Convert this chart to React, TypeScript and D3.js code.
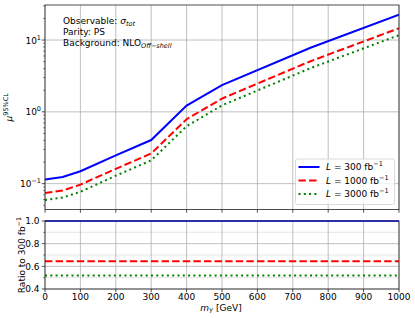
import React from "react";
import * as d3 from "d3";

const mass = [0, 50, 100, 200, 300, 400, 500, 750, 1000];
const mu300 = [0.114, 0.124, 0.149, 0.248, 0.405, 1.22, 2.36, 7.8, 22.5];
const mu1000 = [0.074, 0.080, 0.097, 0.161, 0.263, 0.79, 1.53, 5.07, 14.6];
const mu3000 = [0.059, 0.064, 0.077, 0.129, 0.211, 0.63, 1.23, 4.06, 11.7];
const ratio300 = [1, 1, 1, 1, 1, 1, 1, 1, 1];
const ratio1000 = [0.645, 0.645, 0.645, 0.645, 0.645, 0.645, 0.645, 0.645, 0.645];
const ratio3000 = [0.52, 0.52, 0.52, 0.52, 0.52, 0.52, 0.52, 0.52, 0.52];
const xTicks = [0, 100, 200, 300, 400, 500, 600, 700, 800, 900, 1000];
const logTicks = [0.1, 1, 10];
const logTickExp = ["−1", "0", "1"];
const ratioTicks = [0.4, 0.6, 0.8, 1.0];
const ratioMinor = [0.5, 0.7, 0.9];
const legendLumi = ["300", "1000", "3000"];

const FONT = "DejaVu Sans, sans-serif";
const L = 45, R = 399;
const T1 = 5, B1 = 209.5;
const T2 = 221, B2 = 289;

export default function App() {
  const x = d3.scaleLinear().domain([0, 1000]).range([L, R]);
  const y = d3.scaleLog().domain([Math.pow(10, -1.36), Math.pow(10, 1.488)]).range([B1, T1]);
  const yr = d3.scaleLinear().domain([0.4, 1.0]).range([B2, T2]);

  const lineTop = (vals: number[]) =>
    d3.line<number>().x((_, i) => x(mass[i])).y((v) => y(v))(vals) || "";
  const lineBot = (vals: number[]) =>
    d3.line<number>().x((_, i) => x(mass[i])).y((v) => yr(v))(vals) || "";

  const series = [
    { top: mu300, bot: ratio300, color: "#0000ff", dash: "none" },
    { top: mu1000, bot: ratio1000, color: "#ff0000", dash: "7.4,3.2" },
    { top: mu3000, bot: ratio3000, color: "#008000", dash: "2,3.3" },
  ];

  const [lo, hi] = y.domain();
  const minorLog: number[] = [];
  for (let e = -2; e <= 2; e++) {
    for (let k = 2; k <= 9; k++) {
      const v = k * Math.pow(10, e);
      if (v >= lo && v <= hi) minorLog.push(v);
    }
  }

  const grid = "#b0b0b0";
  const spine = "#222";

  return (
    <svg width={415} height={318} style={{ position: "absolute", left: 0, top: 0, fontFamily: FONT }}>
      <rect x={0} y={0} width={415} height={318} fill="#fff" />
      <defs>
        <clipPath id="c1"><rect x={L} y={T1} width={R - L} height={B1 - T1} /></clipPath>
        <clipPath id="c2"><rect x={L} y={T2 - 2} width={R - L} height={B2 - T2 + 2} /></clipPath>
      </defs>

      {/* top panel grid */}
      {xTicks.map((t) => (
        <line key={"gx1" + t} x1={x(t)} x2={x(t)} y1={T1} y2={B1} stroke={grid} strokeWidth={0.8} />
      ))}
      {logTicks.map((t) => (
        <line key={"gy1" + t} x1={L} x2={R} y1={y(t)} y2={y(t)} stroke={grid} strokeWidth={0.8} />
      ))}

      {/* bottom panel grid */}
      {xTicks.map((t) => (
        <line key={"gx2" + t} x1={x(t)} x2={x(t)} y1={T2} y2={B2} stroke={grid} strokeWidth={0.8} />
      ))}
      {ratioTicks.map((t) => (
        <line key={"gy2" + t} x1={L} x2={R} y1={yr(t)} y2={yr(t)} stroke={grid} strokeWidth={0.8} />
      ))}
      {ratioMinor.map((t) => (
        <line key={"gm2" + t} x1={L} x2={R} y1={yr(t)} y2={yr(t)} stroke={grid} strokeWidth={0.8} opacity={0.4} />
      ))}

      {/* curves */}
      <g clipPath="url(#c1)">
        {series.map((s, i) => (
          <path key={"t" + i} d={lineTop(s.top)} fill="none" stroke={s.color} strokeWidth={2} strokeDasharray={s.dash} />
        ))}
      </g>
      <g clipPath="url(#c2)">
        {series.map((s, i) => (
          <path key={"b" + i} d={lineBot(s.bot)} fill="none" stroke={s.color} strokeWidth={i === 0 ? 1.5 : 2} strokeDasharray={s.dash} />
        ))}
      </g>

      {/* spines */}
      <rect x={L} y={T1} width={R - L} height={B1 - T1} fill="none" stroke={spine} strokeWidth={0.8} />
      <rect x={L} y={T2} width={R - L} height={B2 - T2} fill="none" stroke={spine} strokeWidth={0.8} />

      {/* top y ticks */}
      {logTicks.map((t, i) => (
        <g key={"yt" + t}>
          <line x1={L - 3.2} x2={L} y1={y(t)} y2={y(t)} stroke={spine} strokeWidth={0.8} />
          <text x={L - 4} y={y(t) + 3.5} fontSize={9} textAnchor="end" fill="#000">
            10<tspan fontSize={6.5} dy={-4}>{logTickExp[i]}</tspan>
          </text>
        </g>
      ))}
      {minorLog.map((t) => (
        <line key={"ym" + t} x1={L - 1.8} x2={L} y1={y(t)} y2={y(t)} stroke={spine} strokeWidth={0.6} />
      ))}
      {/* top x ticks (no labels) */}
      {xTicks.map((t) => (
        <line key={"xt1" + t} x1={x(t)} x2={x(t)} y1={B1} y2={B1 + 3.2} stroke={spine} strokeWidth={0.8} />
      ))}

      {/* bottom ticks */}
      {ratioTicks.map((t) => (
        <g key={"rt" + t}>
          <line x1={L - 3.2} x2={L} y1={yr(t)} y2={yr(t)} stroke={spine} strokeWidth={0.8} />
          <text x={L - 5.5} y={yr(t) + 3.3} fontSize={9} textAnchor="end" fill="#000">{t.toFixed(1)}</text>
        </g>
      ))}
      {ratioMinor.map((t) => (
        <line key={"rm" + t} x1={L - 1.8} x2={L} y1={yr(t)} y2={yr(t)} stroke={spine} strokeWidth={0.6} />
      ))}
      {xTicks.map((t) => (
        <g key={"xt2" + t}>
          <line x1={x(t)} x2={x(t)} y1={B2} y2={B2 + 3.2} stroke={spine} strokeWidth={0.8} />
          <text x={x(t)} y={B2 + 11} fontSize={9} textAnchor="middle" fill="#000">{t}</text>
        </g>
      ))}

      {/* axis labels */}
      <text x={221} y={311} fontSize={9} textAnchor="middle" fill="#000">
        <tspan fontStyle="italic">m</tspan>
        <tspan fontSize={6.5} fontStyle="italic" dy={2}>Y</tspan>
        <tspan dy={-2}> [GeV]</tspan>
      </text>
      <text transform={`translate(12,${(T1 + B1) / 2}) rotate(-90)`} fontSize={9} textAnchor="middle" fill="#000">
        <tspan fontStyle="italic">μ</tspan>
        <tspan fontSize={6.5} dy={-4}>95%CL</tspan>
      </text>
      <text transform={`translate(25,${(T2 + B2) / 2}) rotate(-90)`} fontSize={9} textAnchor="middle" fill="#000">
        Ratio to 300 fb<tspan fontSize={6.5} dy={-4}>−1</tspan>
      </text>

      {/* annotation */}
      <g fontSize={9} fill="#000">
        <text x={63} y={24}>
          Observable: <tspan fontStyle="italic">σ</tspan>
          <tspan fontSize={6.5} fontStyle="italic" dy={2}>tot</tspan>
        </text>
        <text x={63} y={34.7}>Parity: PS</text>
        <text x={63} y={45.7}>
          Background: NLO<tspan fontSize={6.5} fontStyle="italic" dy={2}>Off−shell</tspan>
        </text>
      </g>

      {/* legend */}
      <rect x={295.5} y={159} width={99} height={45.5} rx={2} fill="#fff" fillOpacity={0.8} stroke="#d0d0d0" strokeWidth={0.8} />
      {series.map((s, i) => {
        const ly = 167 + i * 13.5;
        return (
          <g key={"lg" + i}>
            <line x1={298.5} x2={319.5} y1={ly} y2={ly} stroke={s.color} strokeWidth={2} strokeDasharray={s.dash} />
            <text x={326} y={ly + 3.3} fontSize={9} fill="#000">
              <tspan fontStyle="italic">L</tspan> = {legendLumi[i]} fb<tspan fontSize={6.5} dy={-4}>−1</tspan>
            </text>
          </g>
        );
      })}
    </svg>
  );
}
